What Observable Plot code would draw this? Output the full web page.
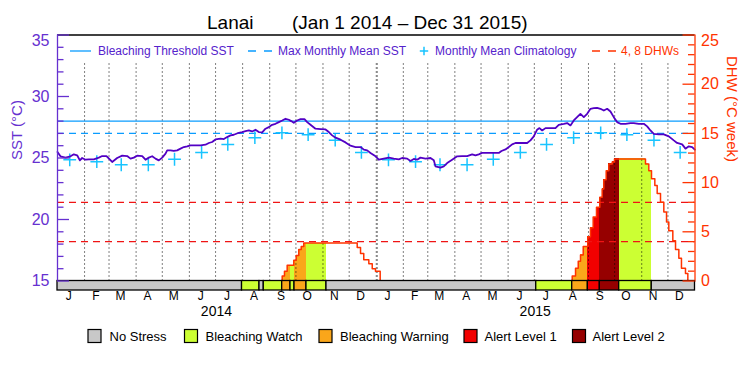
<!DOCTYPE html>
<html><head><meta charset="utf-8">
<script src="https://cdn.jsdelivr.net/npm/d3@7"></script>
<script src="https://cdn.jsdelivr.net/npm/@observablehq/plot@0.6"></script>
<style>body{margin:0;background:#fff} svg{display:block}</style>
</head><body><div id="chart"></div>
<script>
// ---------- data ----------
const monthLetters = ["J","F","M","A","M","J","J","A","S","O","N","D"];
const years = [2014, 2015];
const climatology = [24.85, 24.7, 24.45, 24.45, 24.9, 25.45, 26.1, 26.65, 27.05, 26.9, 26.45, 25.45];
const bleachingThreshold = 28.0;
const maxMonthlyMean = 27.0;
const dhwGuides = [4, 8];
const sstTicksMajor = [15, 20, 25, 30, 35];
const sstTicksMinor = [16,17,18,19,21,22,23,24,26,27,28,29,31,32,33,34];
const dhwTicksMajor = [0, 5, 10, 15, 20, 25];
const dhwTicksMinor = [1,2,3,4,6,7,8,9,11,12,13,14,16,17,18,19,21,22,23,24];

// SST (days since Jan 1 2014, °C)
const sstDay = [0,3.4,9.2,14.9,18.7,22.5,25.6,28.2,32.1,35.9,41.6,47.3,51.2,56.1,62.6,68.3,74.1,79.8,83.6,87.4,91.2,97.0,100.8,104.6,108.4,112.2,116.0,119.9,123.7,125.6,129.4,133.2,137.0,140.9,144.7,148.5,152.3,158.0,163.8,169.5,173.3,177.1,180.9,186.7,190.5,194.3,198.1,201.9,207.6,211.5,215.3,219.1,222.9,226.7,230.5,234.4,238.2,242.0,245.8,249.6,253.5,257.3,261.1,264.9,267.6,270.6,274.4,278.3,282.8,285.9,289.7,295.4,301.2,306.9,310.7,314.5,318.4,324.1,329.8,335.5,341.3,347.0,350.8,354.6,358.4,364.2,
  367.9,373.6,379.4,385.1,390.8,394.6,400.4,404.2,408.0,411.8,415.6,421.4,427.1,430.9,432.8,438.5,442.3,446.2,451.9,457.6,463.3,469.1,474.8,478.6,482.4,486.2,493.9,501.5,505.3,508.4,513.0,516.8,520.6,524.4,530.1,537.8,541.6,545.4,549.2,551.9,555.0,558.8,562.6,570.2,574.0,579.8,583.6,587.4,591.2,595.0,598.8,602.7,606.5,610.3,614.1,617.9,621.7,625.6,629.4,633.2,637.0,640.8,644.6,650.4,656.1,659.9,665.6,671.4,675.2,679.0,682.8,688.5,694.3,700.0,705.7,709.5,715.3,719.1,722.9,726.7,729.8];
const sstVal = [25.49,25.14,25.03,25.14,25.30,25.22,24.81,25.0,24.86,24.89,24.89,25.03,25.16,25.16,24.68,25.0,25.19,25.16,24.95,25.03,25.19,25.16,24.86,25.03,25.14,24.95,24.81,25.03,25.35,25.62,25.62,25.57,25.62,25.76,25.89,25.95,26.03,26.03,26.03,26.08,26.22,26.30,26.51,26.57,26.54,26.70,26.84,26.89,27.05,27.11,27.19,27.24,27.16,27.30,27.11,27.08,27.38,27.51,27.70,27.78,27.92,28.05,28.19,28.11,28.0,27.86,28.05,28.16,28.16,27.92,27.70,27.38,27.35,27.32,27.11,26.84,26.65,26.49,26.27,26.0,25.89,25.89,25.68,25.62,25.41,25.14,
  24.86,24.95,25.03,24.95,24.89,25.0,24.95,24.76,24.92,24.86,25.03,24.95,25.0,24.81,24.32,24.22,24.32,24.59,24.86,25.14,25.16,25.16,25.30,25.22,25.30,25.41,25.41,25.41,25.41,25.57,25.70,25.89,26.11,26.22,26.22,26.22,26.43,26.76,27.30,27.43,27.24,27.43,27.43,27.43,27.70,27.78,27.84,27.65,28.05,28.32,28.59,28.32,28.59,29.0,29.05,29.08,29.0,28.86,29.0,28.78,28.32,27.92,27.78,27.78,27.84,27.84,27.78,27.78,27.57,27.24,26.97,26.92,26.92,26.76,26.43,26.22,26.11,25.76,25.95,25.89,25.68];

// DHW (days since Jan 1 2014, °C week), step series
const dhwDay = [0,257.3,259.9,263.0,270.6,273.3,276.3,279.1,282.0,343.2,347.0,350.7,356.5,360.4,364.1,369.5,
  589.4,593.2,596.3,598.9,602.0,607.3,610.3,613.4,617.2,621.0,623.7,625.6,628.3,631.3,635.2,637.8,673.3,677.1,680.2,684.0,686.7,690.5,694.3,697.4,700.0,704.6,707.7,711.5,714.5,719.1,721.8,730];
const dhwVal = [0,0.5,1.0,1.6,2.1,2.6,3.2,3.5,3.86,3.4,2.8,2.15,1.75,1.25,1.0,0,
  0.5,1.3,2.0,2.65,3.5,4.5,5.4,6.5,7.5,8.5,9.35,10.3,11.2,11.9,12.1,12.4,11.9,11.2,10.4,9.7,8.9,8.0,7.0,6.0,5.1,4.1,3.2,2.3,1.3,0.75,0,0];

// Stress level periods (start day, level index)
const stressStart = [0,211.3,231.3,236.2,257.3,266.8,271.4,285.1,308.0,548.2,589.4,607.3,621.0,643.2,680.5];
const stressLevel = [0,1,0,1,2,1,2,1,0,1,2,3,4,1,0];
const stressNames = ["No Stress","Bleaching Watch","Bleaching Warning","Alert Level 1","Alert Level 2"];
const stressColors = ["#c8c8c8","#ccff33","#faa61a","#f20000","#960000"];

// ---------- build ----------
const FONT = "'Liberation Sans', Arial, sans-serif";
const PURPLE = "#6630d0", LINEPURPLE = "#5200c4", BLUE = "#0a9cff", CYAN = "#18c4ff", ORANGE = "#ff3300", RED = "#f01414";
const t0 = Date.UTC(2014, 0, 1);
const day = d => new Date(t0 + d * 864e5);
const endDay = 730;
const dhwToY = v => 15 + v * 20 / 25;

const sst = sstDay.map((d, i) => ({date: day(d), v: sstVal[i]}));
const dhw = dhwDay.map((d, i) => ({date: day(d), v: dhwToY(dhwVal[i])}));
const segs = stressStart.map((s, i) => ({start: s, end: i + 1 < stressStart.length ? stressStart[i + 1] : endDay, level: stressLevel[i]}));
const fills = [];
for (const s of segs) {
  if (s.level === 0) continue;
  for (let i = 0; i < dhwDay.length - 1; i++) {
    const a = Math.max(s.start, dhwDay[i]), b = Math.min(s.end, dhwDay[i + 1]);
    if (a < b && dhwVal[i] > 0) fills.push({x1: day(a), x2: day(b), v: dhwToY(dhwVal[i]), level: s.level});
  }
}
const clim = [];
for (const yr of years) climatology.forEach((c, m) => clim.push({date: new Date(Date.UTC(yr, m, 15)), v: c}));
const monthLabels = [];
for (const yr of years) monthLetters.forEach((l, m) => monthLabels.push({date: new Date(Date.UTC(yr, m, 14)), t: l}));
const monthStarts = [];
for (const yr of years) for (let m = 0; m < 12; m++) if (!(yr === 2014 && m === 0)) monthStarts.push(new Date(Date.UTC(yr, m, 1)));
const yearLabels = years.map(yr => ({date: new Date(Date.UTC(yr, 6, 2)), t: String(yr)}));

const chart = Plot.plot({
  width: 750, height: 375,
  marginLeft: 57, marginRight: 55.5, marginTop: 35, marginBottom: 85,
  style: {fontFamily: FONT, background: "#fff", overflow: "visible"},
  x: {type: "utc", domain: [day(0), day(endDay)], range: [57, 694.5], axis: null},
  y: {domain: [15, 35], range: [280.5, 34.5], axis: null},
  marks: [
    // DHW area coloured by stress level
    Plot.rect(fills, {x1: "x1", x2: "x2", y1: 15, y2: "v", fill: d => stressColors[d.level], shapeRendering: "crispEdges"}),
    // month grid
    Plot.ruleX(monthStarts, {x: d => d, y1: 15, y2: 32.7, stroke: "#000", strokeWidth: 1, strokeDasharray: "1,3"}),
    Plot.ruleX([new Date(Date.UTC(2015, 0, 1))], {x: d => d, y1: 15, y2: 32.7, dx: 1, stroke: "#000", strokeWidth: 1, strokeDasharray: "1,3"}),
    // guides
    Plot.ruleY(dhwGuides.map(dhwToY), {y: d => d, stroke: RED, strokeWidth: 1.2, strokeDasharray: "7,5"}),
    Plot.ruleY([maxMonthlyMean], {y: d => d, stroke: BLUE, strokeWidth: 1.3, strokeDasharray: "7,5"}),
    Plot.ruleY([bleachingThreshold], {y: d => d, stroke: BLUE, strokeWidth: 1.3}),
    // climatology
    Plot.dot(clim, {x: "date", y: "v", symbol: "plus", r: 4.2, stroke: CYAN, strokeWidth: 1.5}),
    // SST
    Plot.line(sst, {x: "date", y: "v", stroke: LINEPURPLE, strokeWidth: 1.8}),
    // DHW outline
    Plot.line(dhw, {x: "date", y: "v", curve: "step-after", stroke: ORANGE, strokeWidth: 1.5}),
    // stress bar
    Plot.rect(segs, {x1: d => day(d.start), x2: d => day(d.end), insetTop: 245.5, fill: d => stressColors[d.level], stroke: "#000", strokeWidth: 1.3}),
    // frame top
    Plot.ruleY([35], {y: d => d, stroke: "#000", strokeWidth: 1.3}),
    // left axis
    Plot.ruleX([day(0)], {x: d => d, y1: 15, y2: 35, stroke: PURPLE, strokeWidth: 1.3}),
    Plot.tickY(sstTicksMajor, {y: d => d, insetRight: 625.5, stroke: PURPLE, strokeWidth: 1.3}),
    Plot.tickY(sstTicksMinor, {y: d => d, insetRight: 631, stroke: PURPLE, strokeWidth: 1.3}),
    Plot.text(sstTicksMajor.filter(v => v < 35), {y: d => d, text: d => String(d), frameAnchor: "left", dx: -8, textAnchor: "end", fill: PURPLE, fontSize: 16}),
    Plot.text([35], {y: d => d, text: d => String(d), frameAnchor: "left", dx: -8, dy: 6, textAnchor: "end", fill: PURPLE, fontSize: 16}),
    Plot.text(["SST (°C)"], {text: d => d, frameAnchor: "left", dx: -40, dy: -3, rotate: -90, fill: PURPLE, fontSize: 15}),
    // right axis
    Plot.ruleX([day(endDay)], {x: d => d, y1: 15, y2: 35, stroke: ORANGE, strokeWidth: 1.3}),
    Plot.tickY(dhwTicksMajor, {y: d => dhwToY(d), insetLeft: 625.5, stroke: ORANGE, strokeWidth: 1.3}),
    Plot.tickY(dhwTicksMinor, {y: d => dhwToY(d), insetLeft: 631, stroke: ORANGE, strokeWidth: 1.3}),
    Plot.text(dhwTicksMajor.filter(v => v < 25), {y: d => dhwToY(d), text: d => String(d), frameAnchor: "right", dx: 6, textAnchor: "start", fill: ORANGE, fontSize: 16}),
    Plot.text([25], {y: d => dhwToY(d), text: d => String(d), frameAnchor: "right", dx: 6, dy: 6, textAnchor: "start", fill: ORANGE, fontSize: 16}),
    Plot.text(["DHW (°C week)"], {text: d => d, frameAnchor: "right", dx: 37, dy: -1, rotate: 90, fill: ORANGE, fontSize: 15}),
    // x labels
    Plot.text(monthLabels, {x: "date", text: "t", frameAnchor: "bottom", dy: 9, fill: "#000", fontSize: 12}),
    Plot.text(yearLabels, {x: "date", text: "t", frameAnchor: "bottom", dy: 25, fill: "#000", fontSize: 14})
  ]
});
document.getElementById("chart").appendChild(chart);

// ---------- title & legends ----------
const svg = d3.select(chart);
const title = svg.append("g").attr("font-family", FONT).attr("font-size", 19).attr("fill", "#000").attr("text-anchor", "start");
title.append("text").attr("x", 207).attr("y", 22).attr("dy", "0.35em").text("Lanai");
title.append("text").attr("x", 292).attr("y", 22).attr("dy", "0.35em").text("(Jan 1 2014 \u2013 Dec 31 2015)");

const lg = svg.append("g").attr("font-family", FONT).attr("font-size", 12).attr("text-anchor", "start");
const ly = 51;
lg.append("line").attr("x1", 70).attr("x2", 91).attr("y1", ly).attr("y2", ly).attr("stroke", BLUE).attr("stroke-width", 1.3);
lg.append("text").attr("x", 98).attr("y", ly).attr("dy", "0.35em").attr("fill", "#5522cc").text("Bleaching Threshold SST");
lg.append("line").attr("x1", 248).attr("x2", 272).attr("y1", ly).attr("y2", ly).attr("stroke", BLUE).attr("stroke-width", 1.3).attr("stroke-dasharray", "8,8");
lg.append("text").attr("x", 278).attr("y", ly).attr("dy", "0.35em").attr("fill", "#5522cc").text("Max Monthly Mean SST");
lg.append("path").attr("d", `M${424-4.2},${ly}h8.4M424,${ly-4.2}v8.4`).attr("stroke", CYAN).attr("stroke-width", 1.5);
lg.append("text").attr("x", 435).attr("y", ly).attr("dy", "0.35em").attr("fill", "#5522cc").text("Monthly Mean Climatology");
lg.append("line").attr("x1", 592).attr("x2", 616).attr("y1", ly).attr("y2", ly).attr("stroke", ORANGE).attr("stroke-width", 1.3).attr("stroke-dasharray", "8,8");
lg.append("text").attr("x", 621).attr("y", ly).attr("dy", "0.35em").attr("fill", ORANGE).text("4, 8 DHWs");

const boxX = [88, 184.5, 319, 464, 572.5];
const textX = [109.5, 205.5, 340, 484.5, 592.5];
const bl = svg.append("g").attr("font-family", FONT).attr("font-size", 13).attr("text-anchor", "start");
stressNames.forEach((n, i) => {
  bl.append("rect").attr("x", boxX[i]).attr("y", 329.5).attr("width", 13).attr("height", 13).attr("fill", stressColors[i]).attr("stroke", "#000").attr("stroke-width", 1.2);
  bl.append("text").attr("x", textX[i]).attr("y", 336).attr("dy", "0.35em").attr("fill", "#000").text(n);
});
</script>
</body></html>
